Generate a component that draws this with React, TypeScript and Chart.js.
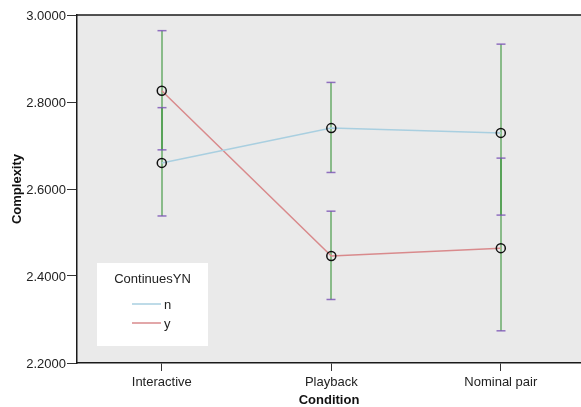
import React, { useEffect, useRef } from "react";
import { Chart, registerables } from "chart.js";

Chart.register(...registerables);

const categories = ["Interactive", "Playback", "Nominal pair"];
const seriesNames = ["n", "y"];
const nMeans = [2.66, 2.74, 2.729];
const nLow = [2.538, 2.638, 2.54];
const nHigh = [2.787, 2.845, 2.933];
const yMeans = [2.826, 2.446, 2.464];
const yLow = [2.69, 2.346, 2.274];
const yHigh = [2.964, 2.549, 2.671];
const yTickMin = 2.2;
const yTickMax = 3.0;
const yTickStep = 0.2;
const xTitle = "Condition";
const yTitle = "Complexity";
const legendTitle = "ContinuesYN";

const FONT = "'Liberation Sans', Arial, sans-serif";
const lows = [nLow, yLow];
const highs = [nHigh, yHigh];

const bgPlugin = {
  id: "bgPlugin",
  beforeDraw(chart: any) {
    const { ctx, chartArea: a } = chart;
    ctx.save();
    ctx.fillStyle = "#eaeaea";
    ctx.fillRect(a.left, a.top, a.right - a.left, a.bottom - a.top);
    ctx.restore();
  },
  afterDraw(chart: any) {
    const { ctx, chartArea: a } = chart;
    ctx.save();
    ctx.strokeStyle = "#1a1a1a";
    ctx.lineWidth = 1.5;
    ctx.beginPath();
    ctx.moveTo(a.left, a.top);
    ctx.lineTo(a.right, a.top);
    ctx.stroke();
    // legend
    const bx = a.left + 20;
    const by = a.bottom - 100;
    const bw = 111;
    const bh = 83;
    ctx.fillStyle = "#ffffff";
    ctx.fillRect(bx, by, bw, bh);
    ctx.fillStyle = "#222";
    ctx.font = `13px ${FONT}`;
    ctx.textAlign = "center";
    ctx.textBaseline = "middle";
    ctx.fillText(legendTitle, bx + bw / 2, by + 16);
    chart.data.datasets.forEach((ds: any, i: number) => {
      const ly = by + 41 + i * 19;
      ctx.strokeStyle = ds.borderColor;
      ctx.lineWidth = 1.5;
      ctx.beginPath();
      ctx.moveTo(bx + 35, ly);
      ctx.lineTo(bx + 64, ly);
      ctx.stroke();
      ctx.fillStyle = "#222";
      ctx.textAlign = "left";
      ctx.fillText(ds.label, bx + 67, ly + 1);
    });
    ctx.restore();
  },
};

const errorBarPlugin = {
  id: "errorBarPlugin",
  beforeDatasetsDraw(chart: any) {
    const { ctx } = chart;
    const xs = chart.scales.x;
    const ys = chart.scales.y;
    ctx.save();
    ctx.strokeStyle = "rgba(40,140,40,0.5)";
    ctx.lineWidth = 2;
    lows.forEach((lo, s) => {
      lo.forEach((l, j) => {
        const x = Math.round(xs.getPixelForValue(j));
        ctx.beginPath();
        ctx.moveTo(x, ys.getPixelForValue(l));
        ctx.lineTo(x, ys.getPixelForValue(highs[s][j]));
        ctx.stroke();
      });
    });
    ctx.strokeStyle = "rgba(120,80,180,0.8)";
    ctx.lineWidth = 1.5;
    lows.forEach((lo, s) => {
      lo.forEach((l, j) => {
        const x = Math.round(xs.getPixelForValue(j));
        [l, highs[s][j]].forEach((v) => {
          const y = ys.getPixelForValue(v);
          ctx.beginPath();
          ctx.moveTo(x - 4.5, y);
          ctx.lineTo(x + 4.5, y);
          ctx.stroke();
        });
      });
    });
    ctx.restore();
  },
};

export default function App() {
  const ref = useRef<HTMLCanvasElement>(null);
  useEffect(() => {
    if (!ref.current) return;
    const mk = (vals: number[]) => vals.map((v, i) => ({ x: i, y: v }));
    const chart = new Chart(ref.current, {
      type: "line",
      data: {
        datasets: [
          {
            label: seriesNames[0],
            data: mk(nMeans),
            borderColor: "#a9cfe0",
            borderWidth: 1.5,
            pointRadius: 4.5,
            pointBorderColor: "#111",
            pointBackgroundColor: "rgba(0,0,0,0)",
            pointBorderWidth: 1.5,
          },
          {
            label: seriesNames[1],
            data: mk(yMeans),
            borderColor: "#d98a8c",
            borderWidth: 1.5,
            pointRadius: 4.5,
            pointBorderColor: "#111",
            pointBackgroundColor: "rgba(0,0,0,0)",
            pointBorderWidth: 1.5,
          },
        ],
      },
      options: {
        animation: false,
        responsive: false,
        maintainAspectRatio: false,
        layout: { autoPadding: false, padding: { top: 15, left: 0, right: 0, bottom: 0 } },
        plugins: { legend: { display: false }, tooltip: { enabled: false } },
        scales: {
          x: {
            type: "linear",
            min: -0.5,
            max: 2.473,
            afterBuildTicks: (scale: any) => {
              scale.ticks = categories.map((_, i) => ({ value: i }));
            },
            afterFit: (scale: any) => {
              scale.height = 44;
              scale.paddingLeft = 0;
              scale.paddingRight = 0;
            },
            ticks: {
              autoSkip: false,
              maxRotation: 0,
              padding: 4,
              color: "#222",
              font: { family: FONT, size: 13 },
              callback: (v: any) => categories[v as number] ?? "",
            },
            grid: { drawOnChartArea: false, drawTicks: true, tickLength: 8, color: "#333", lineWidth: 1 },
            border: { display: true, color: "#1a1a1a", width: 1.5 },
            title: {
              display: true,
              text: xTitle,
              color: "#111",
              font: { family: FONT, size: 13, weight: "bold" },
              padding: { top: 0, bottom: -1 },
            },
          },
          y: {
            min: yTickMin,
            max: yTickMax,
            afterFit: (scale: any) => {
              scale.width = 77;
            },
            ticks: {
              stepSize: yTickStep,
              padding: 1,
              labelOffset: 1.5,
              color: "#222",
              font: { family: FONT, size: 13 },
              callback: (v: any) => Number(v).toFixed(4),
            },
            grid: { drawOnChartArea: false, drawTicks: true, tickLength: 10, color: "#333", lineWidth: 1 },
            border: { display: true, color: "#1a1a1a", width: 1.5 },
            title: {
              display: true,
              text: yTitle,
              color: "#111",
              font: { family: FONT, size: 13, weight: "bold" },
              padding: { top: 10, bottom: 0 },
            },
          },
        },
      },
      plugins: [bgPlugin, errorBarPlugin],
    } as any);
    return () => chart.destroy();
  }, []);
  return (
    <div style={{ position: "absolute", left: 0, top: 0, width: 581, height: 407, background: "#fff" }}>
      <canvas ref={ref} width={581} height={407} style={{ width: 581, height: 407, display: "block" }} />
    </div>
  );
}
